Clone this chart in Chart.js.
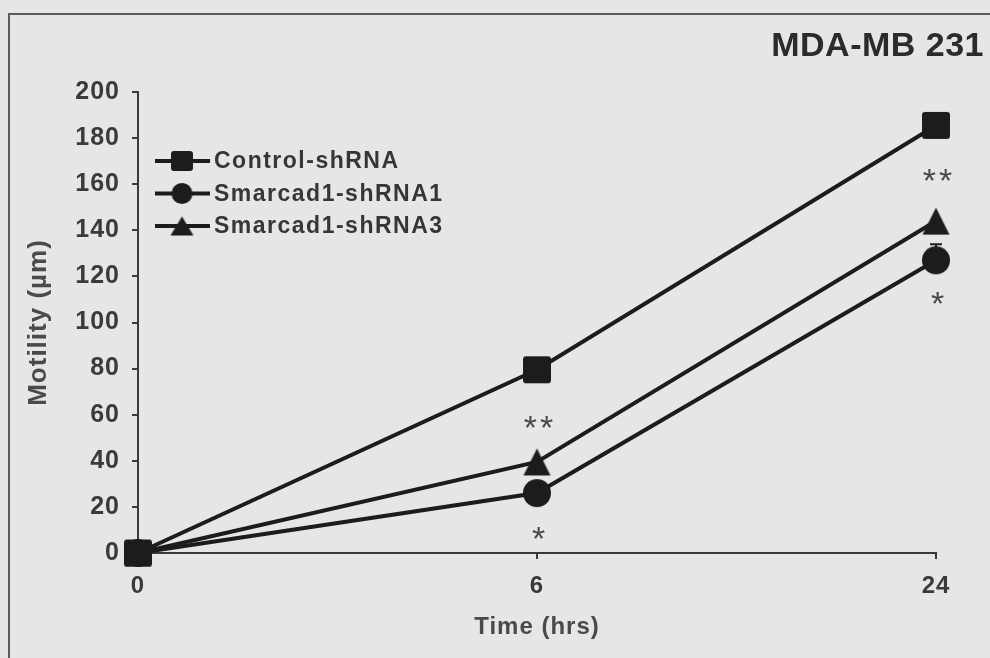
<!DOCTYPE html>
<html>
<head>
<meta charset="utf-8">
<title>MDA-MB 231 motility</title>
<script src="https://cdn.jsdelivr.net/npm/chart.js@4.4.1/dist/chart.umd.min.js"></script>
<style>
    html, body { margin: 0; padding: 0; background: #e6e6e6; overflow: hidden; }
    #wrap { position: relative; width: 990px; height: 658px; }
    #frame { position: absolute; left: 8px; top: 13px; width: 1000px; height: 700px;
             border-left: 2px solid #5b5b5b; border-top: 2px solid #5b5b5b; }
    #motilityChart { position: absolute; left: 0; top: 0; }
</style>
</head>
<body>
<div id="wrap">
    <div id="frame"></div>
    <canvas id="motilityChart" width="990" height="658"></canvas>
</div>
<script>
// values
const timePoints = ['0', '6', '24'];
const seriesNames = ['Control-shRNA', 'Smarcad1-shRNA1', 'Smarcad1-shRNA3'];
const controlValues = [0, 79.5, 185.5];
const shRNA1Values = [0, 26, 127];
const shRNA3Values = [0, 39.5, 144];
const shRNA1Errors = [0, 0, 7];

// significance marks
const sigTimes = ['6', '6', '24', '24'];
const sigValues = [57, 9, 164, 111];
const sigText = ['**', '*', '**', '*'];

const ink = '#1c1c1c';
const font = '"Liberation Sans", Arial, sans-serif';

// marker images (excel-like shapes)
function markerImage(kind, w, h) {
    const c = document.createElement('canvas');
    c.width = w + 2;
    c.height = h + 2;
    const g = c.getContext('2d');
    g.fillStyle = ink;
    g.beginPath();
    if (kind === 'square') {
        g.roundRect(1, 1, w, h, Math.round(w * 0.12));
    } else if (kind === 'circle') {
        g.ellipse(1 + w / 2, 1 + h / 2, w / 2, h / 2, 0, 0, Math.PI * 2);
    } else {
        g.moveTo(1 + w / 2, 1);
        g.lineTo(1 + w, 1 + h);
        g.lineTo(1, 1 + h);
        g.closePath();
    }
    g.fill();
    return c;
}

const plotMarkers = [markerImage('square', 28, 27), markerImage('circle', 28, 28), markerImage('triangle', 27, 27)];
const legendMarkers = [markerImage('square', 22, 20), markerImage('circle', 21, 21), markerImage('triangle', 23, 19)];

const decorPlugin = {
    id: 'decor',
    beforeDraw(chart) {
        chart.ctx.letterSpacing = '1px';
    },
    afterDatasetsDraw(chart) {
        const ctx = chart.ctx;
        const xs = chart.scales.x;
        const ys = chart.scales.y;

        // error bar (only the visible one)
        ctx.save();
        ctx.strokeStyle = ink;
        ctx.lineWidth = 2;
        shRNA1Errors.forEach(function (err, i) {
            if (!err) return;
            const px = xs.getPixelForValue(i);
            const top = ys.getPixelForValue(shRNA1Values[i] + err);
            const mid = ys.getPixelForValue(shRNA1Values[i]);
            ctx.beginPath();
            ctx.moveTo(px, mid);
            ctx.lineTo(px, top);
            ctx.moveTo(px - 6, top);
            ctx.lineTo(px + 6, top);
            ctx.stroke();
        });
        ctx.restore();

        // asterisks
        ctx.save();
        ctx.letterSpacing = '3px';
        ctx.font = '34px ' + font;
        ctx.fillStyle = '#4a4a4a';
        ctx.textAlign = 'center';
        ctx.textBaseline = 'middle';
        sigText.forEach(function (txt, i) {
            const px = xs.getPixelForValue(timePoints.indexOf(sigTimes[i]));
            const py = ys.getPixelForValue(sigValues[i]);
            ctx.fillText(txt, px + 3, py + 8);
        });
        ctx.restore();
    },
    afterDraw(chart) {
        const ctx = chart.ctx;
        ctx.save();
        ctx.letterSpacing = '0.5px';
        ctx.font = 'bold 34px ' + font;
        ctx.fillStyle = '#2b2b2b';
        ctx.textAlign = 'right';
        ctx.textBaseline = 'middle';
        ctx.fillText('MDA-MB 231', 984, 47);

        // legend: line with marker, then label
        ctx.letterSpacing = '1.5px';
        ctx.font = 'bold 23px ' + font;
        ctx.textAlign = 'left';
        chart.data.datasets.forEach(function (ds, i) {
            const y = 161 + i * 32.5;
            ctx.strokeStyle = ink;
            ctx.lineWidth = 4;
            ctx.beginPath();
            ctx.moveTo(155, y);
            ctx.lineTo(210, y);
            ctx.stroke();
            const img = legendMarkers[i];
            ctx.drawImage(img, 182 - img.width / 2, y - img.height / 2);
            ctx.fillStyle = '#363636';
            ctx.fillText(ds.label, 214, y + 1);
        });
        ctx.restore();
    }
};

function makeSeries(label, values, i) {
    return {
        label: label,
        data: values,
        borderColor: ink,
        borderWidth: 4,
        backgroundColor: ink,
        pointStyle: plotMarkers[i],
        pointRadius: 14,
        pointHoverRadius: 14,
        tension: 0,
        clip: false
    };
}

const ctx = document.getElementById('motilityChart').getContext('2d');
new Chart(ctx, {
    type: 'line',
    data: {
        labels: timePoints,
        datasets: [
            makeSeries(seriesNames[0], controlValues, 0),
            makeSeries(seriesNames[1], shRNA1Values, 1),
            makeSeries(seriesNames[2], shRNA3Values, 2)
        ]
    },
    options: {
        responsive: false,
        animation: false,
        events: [],
        layout: { padding: { left: 0, right: 54, top: 92, bottom: 0 } },
        plugins: {
            legend: { display: false },
            title: { display: false },
            tooltip: { enabled: false }
        },
        scales: {
            x: {
                type: 'category',
                offset: false,
                afterFit: function (scale) { scale.height = 105; },
                grid: { display: true, drawOnChartArea: false, drawTicks: true, tickLength: 6, color: '#3a3a3a', lineWidth: 2 },
                border: { display: true, color: '#3a3a3a', width: 2 },
                ticks: { color: '#3a3a3a', font: { family: font, size: 24, weight: 'bold' }, padding: 13, maxRotation: 0 },
                title: { display: true, text: 'Time (hrs)', color: '#4a4a4a', font: { family: font, size: 24, weight: 'bold' }, padding: { top: 0, bottom: 16 } }
            },
            y: {
                min: 0,
                max: 200,
                afterFit: function (scale) { scale.width = 138; },
                grid: { display: true, drawOnChartArea: false, drawTicks: true, tickLength: 6, color: '#3a3a3a', lineWidth: 2 },
                border: { display: true, color: '#3a3a3a', width: 2 },
                ticks: { stepSize: 20, color: '#3a3a3a', font: { family: font, size: 25, weight: 'bold' }, padding: 12 },
                title: { display: true, text: 'Motility (µm)', color: '#4a4a4a', font: { family: font, size: 26, weight: 'bold' }, padding: { top: 23, bottom: 0 } }
            }
        }
    },
    plugins: [decorPlugin]
});
</script>
</body>
</html>
